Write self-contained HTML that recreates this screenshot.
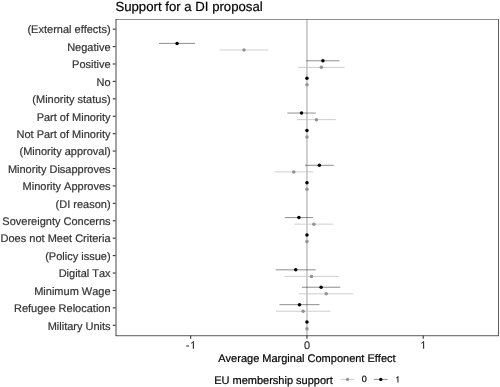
<!DOCTYPE html><html><head><meta charset="utf-8"><style>html,body{margin:0;padding:0;background:#fff;width:500px;height:387px;overflow:hidden}svg{display:block;will-change:transform}text{font-family:"Liberation Sans",sans-serif;stroke-width:0.2px;font-kerning:none;font-variant-ligatures:none;text-rendering:geometricPrecision}</style></head><body>
<svg width="500" height="387" viewBox="0 0 500 387">
<rect width="500" height="387" fill="#fff"/>
<text x="115.4" y="10.6" font-size="13.2" fill="#000" stroke="#000" stroke-width="0.15">Support for a DI proposal</text>
<line x1="306.95" y1="19.5" x2="306.95" y2="335.5" stroke="#bebebe" stroke-width="1.42"/>
<line x1="219.6" y1="49.96" x2="268.4" y2="49.96" stroke="#c2c2c2" stroke-width="0.8"/>
<circle cx="244.00" cy="49.96" r="1.75" fill="#939393"/>
<line x1="159.05" y1="43.38" x2="195.05" y2="43.38" stroke="#000" stroke-width="0.45"/>
<circle cx="177.05" cy="43.38" r="1.75" fill="#000"/>
<line x1="298.1" y1="67.37" x2="344.7" y2="67.37" stroke="#c2c2c2" stroke-width="0.8"/>
<circle cx="321.40" cy="67.37" r="1.75" fill="#939393"/>
<line x1="306.3" y1="60.79" x2="339.5" y2="60.79" stroke="#000" stroke-width="0.45"/>
<circle cx="322.90" cy="60.79" r="1.75" fill="#000"/>
<circle cx="306.95" cy="84.79" r="1.75" fill="#939393"/>
<circle cx="306.95" cy="78.21" r="1.75" fill="#000"/>
<line x1="297.0" y1="119.63" x2="335.8" y2="119.63" stroke="#c2c2c2" stroke-width="0.8"/>
<circle cx="316.40" cy="119.63" r="1.75" fill="#939393"/>
<line x1="287.3" y1="113.05" x2="315.7" y2="113.05" stroke="#000" stroke-width="0.45"/>
<circle cx="301.50" cy="113.05" r="1.75" fill="#000"/>
<circle cx="306.95" cy="137.05" r="1.75" fill="#939393"/>
<circle cx="306.95" cy="130.47" r="1.75" fill="#000"/>
<line x1="274.5" y1="171.89" x2="313.1" y2="171.89" stroke="#c2c2c2" stroke-width="0.8"/>
<circle cx="293.80" cy="171.89" r="1.75" fill="#939393"/>
<line x1="305.0" y1="165.31" x2="333.75" y2="165.31" stroke="#000" stroke-width="0.45"/>
<circle cx="319.38" cy="165.31" r="1.75" fill="#000"/>
<circle cx="306.95" cy="189.31" r="1.75" fill="#939393"/>
<circle cx="306.95" cy="182.73" r="1.75" fill="#000"/>
<line x1="294.45" y1="224.15" x2="333.15" y2="224.15" stroke="#c2c2c2" stroke-width="0.8"/>
<circle cx="313.80" cy="224.15" r="1.75" fill="#939393"/>
<line x1="284.85" y1="217.57" x2="312.95" y2="217.57" stroke="#000" stroke-width="0.45"/>
<circle cx="298.90" cy="217.57" r="1.75" fill="#000"/>
<circle cx="306.95" cy="241.56" r="1.75" fill="#939393"/>
<circle cx="306.95" cy="234.98" r="1.75" fill="#000"/>
<line x1="284.3" y1="276.40" x2="338.7" y2="276.40" stroke="#c2c2c2" stroke-width="0.8"/>
<circle cx="311.50" cy="276.40" r="1.75" fill="#939393"/>
<line x1="275.7" y1="269.82" x2="315.75" y2="269.82" stroke="#000" stroke-width="0.45"/>
<circle cx="295.73" cy="269.82" r="1.75" fill="#000"/>
<line x1="299.0" y1="293.82" x2="353.45" y2="293.82" stroke="#c2c2c2" stroke-width="0.8"/>
<circle cx="326.23" cy="293.82" r="1.75" fill="#939393"/>
<line x1="301.9" y1="287.24" x2="340.35" y2="287.24" stroke="#000" stroke-width="0.45"/>
<circle cx="321.12" cy="287.24" r="1.75" fill="#000"/>
<line x1="276.0" y1="311.24" x2="330.3" y2="311.24" stroke="#c2c2c2" stroke-width="0.8"/>
<circle cx="303.15" cy="311.24" r="1.75" fill="#939393"/>
<line x1="279.5" y1="304.66" x2="319.5" y2="304.66" stroke="#000" stroke-width="0.45"/>
<circle cx="299.50" cy="304.66" r="1.75" fill="#000"/>
<circle cx="306.95" cy="328.66" r="1.75" fill="#939393"/>
<circle cx="306.95" cy="322.08" r="1.75" fill="#000"/>
<line x1="116.0" y1="19.2" x2="116.0" y2="335.9" stroke="#333" stroke-width="0.9"/>
<line x1="115.6" y1="19.5" x2="498.9" y2="19.5" stroke="#333" stroke-width="0.55"/>
<line x1="498.5" y1="19.2" x2="498.5" y2="335.9" stroke="#333" stroke-width="0.8"/>
<line x1="115.6" y1="335.5" x2="498.9" y2="335.5" stroke="#333" stroke-width="0.64"/>
<line x1="115.6" y1="336.5" x2="498.9" y2="336.5" stroke="#333" stroke-width="0.18"/>
<line x1="112.75" y1="29.16" x2="115.6" y2="29.16" stroke="#333" stroke-width="1.1"/>
<text x="110.6" y="33.41" font-size="11" fill="#333333" stroke="#333333" text-anchor="end">(External effects)</text>
<line x1="112.75" y1="46.58" x2="115.6" y2="46.58" stroke="#333" stroke-width="1.1"/>
<text x="110.6" y="50.83" font-size="11" fill="#333333" stroke="#333333" text-anchor="end">Negative</text>
<line x1="112.75" y1="63.99" x2="115.6" y2="63.99" stroke="#333" stroke-width="1.1"/>
<text x="110.6" y="68.24" font-size="11" fill="#333333" stroke="#333333" text-anchor="end">Positive</text>
<line x1="112.75" y1="81.41" x2="115.6" y2="81.41" stroke="#333" stroke-width="1.1"/>
<text x="110.6" y="85.66" font-size="11" fill="#333333" stroke="#333333" text-anchor="end">No</text>
<line x1="112.75" y1="98.83" x2="115.6" y2="98.83" stroke="#333" stroke-width="1.1"/>
<text x="110.6" y="103.08" font-size="11" fill="#333333" stroke="#333333" text-anchor="end">(Minority status)</text>
<line x1="112.75" y1="116.25" x2="115.6" y2="116.25" stroke="#333" stroke-width="1.1"/>
<text x="110.6" y="120.50" font-size="11" fill="#333333" stroke="#333333" text-anchor="end">Part of Minority</text>
<line x1="112.75" y1="133.67" x2="115.6" y2="133.67" stroke="#333" stroke-width="1.1"/>
<text x="110.6" y="137.92" font-size="11" fill="#333333" stroke="#333333" text-anchor="end">Not Part of Minority</text>
<line x1="112.75" y1="151.09" x2="115.6" y2="151.09" stroke="#333" stroke-width="1.1"/>
<text x="110.6" y="155.34" font-size="11" fill="#333333" stroke="#333333" text-anchor="end">(Minority approval)</text>
<line x1="112.75" y1="168.51" x2="115.6" y2="168.51" stroke="#333" stroke-width="1.1"/>
<text x="110.6" y="172.76" font-size="11" fill="#333333" stroke="#333333" text-anchor="end">Minority Disapproves</text>
<line x1="112.75" y1="185.93" x2="115.6" y2="185.93" stroke="#333" stroke-width="1.1"/>
<text x="110.6" y="190.18" font-size="11" fill="#333333" stroke="#333333" text-anchor="end">Minority Approves</text>
<line x1="112.75" y1="203.35" x2="115.6" y2="203.35" stroke="#333" stroke-width="1.1"/>
<text x="110.6" y="207.60" font-size="11" fill="#333333" stroke="#333333" text-anchor="end">(DI reason)</text>
<line x1="112.75" y1="220.77" x2="115.6" y2="220.77" stroke="#333" stroke-width="1.1"/>
<text x="110.6" y="225.02" font-size="11" fill="#333333" stroke="#333333" text-anchor="end">Sovereignty Concerns</text>
<line x1="112.75" y1="238.18" x2="115.6" y2="238.18" stroke="#333" stroke-width="1.1"/>
<text x="110.6" y="242.43" font-size="11" fill="#333333" stroke="#333333" text-anchor="end">Does not Meet Criteria</text>
<line x1="112.75" y1="255.60" x2="115.6" y2="255.60" stroke="#333" stroke-width="1.1"/>
<text x="110.6" y="259.85" font-size="11" fill="#333333" stroke="#333333" text-anchor="end">(Policy issue)</text>
<line x1="112.75" y1="273.02" x2="115.6" y2="273.02" stroke="#333" stroke-width="1.1"/>
<text x="110.6" y="277.27" font-size="11" fill="#333333" stroke="#333333" text-anchor="end">Digital Tax</text>
<line x1="112.75" y1="290.44" x2="115.6" y2="290.44" stroke="#333" stroke-width="1.1"/>
<text x="110.6" y="294.69" font-size="11" fill="#333333" stroke="#333333" text-anchor="end">Minimum Wage</text>
<line x1="112.75" y1="307.86" x2="115.6" y2="307.86" stroke="#333" stroke-width="1.1"/>
<text x="110.6" y="312.11" font-size="11" fill="#333333" stroke="#333333" text-anchor="end">Refugee Relocation</text>
<line x1="112.75" y1="325.28" x2="115.6" y2="325.28" stroke="#333" stroke-width="1.1"/>
<text x="110.6" y="329.53" font-size="11" fill="#333333" stroke="#333333" text-anchor="end">Military Units</text>
<line x1="190.70" y1="335.5" x2="190.70" y2="338.7" stroke="#333" stroke-width="1.1"/>
<line x1="306.95" y1="335.5" x2="306.95" y2="338.7" stroke="#333" stroke-width="1.1"/>
<line x1="423.20" y1="335.5" x2="423.20" y2="338.7" stroke="#333" stroke-width="1.1"/>
<text x="306.95" y="348.8" font-size="11" fill="#333333" stroke="#333333" text-anchor="middle">0</text>
<path transform="translate(420.00 348.80) scale(0.00537 -0.00537)" d="M780 0L560 0L560 1147C520 1106 483 1065 413 1024C343 983 280 952 224 931L224 1105C325 1152 413 1209 488 1276C563 1343 616 1408 647 1472L763 1472Z" fill="#333333"/>
<text x="185.81" y="348.8" font-size="11" fill="#333333" stroke="#333333">-</text>
<path transform="translate(189.80 348.80) scale(0.00537 -0.00537)" d="M780 0L560 0L560 1147C520 1106 483 1065 413 1024C343 983 280 952 224 931L224 1105C325 1152 413 1209 488 1276C563 1343 616 1408 647 1472L763 1472Z" fill="#333333"/>
<text x="306.95" y="361.8" font-size="11" fill="#000" stroke="#000" stroke-width="0.15" text-anchor="middle">Average Marginal Component Effect</text>
<text x="214.2" y="383.6" font-size="11" fill="#000" stroke="#000" stroke-width="0.15">EU membership support</text>
<line x1="340.7" y1="379.4" x2="354.3" y2="379.4" stroke="#c2c2c2" stroke-width="0.8"/>
<circle cx="347.5" cy="379.4" r="1.6" fill="#939393"/>
<text x="361.8" y="382.3" font-size="9" fill="#000" stroke="#000" stroke-width="0.15">0</text>
<line x1="373.9" y1="379.4" x2="387.6" y2="379.4" stroke="#000" stroke-width="0.45"/>
<circle cx="380.8" cy="379.4" r="1.7" fill="#000"/>
<path transform="translate(395.02 382.50) scale(0.00439 -0.00439)" d="M780 0L560 0L560 1147C520 1106 483 1065 413 1024C343 983 280 952 224 931L224 1105C325 1152 413 1209 488 1276C563 1343 616 1408 647 1472L763 1472Z" fill="#000"/>
</svg></body></html>
